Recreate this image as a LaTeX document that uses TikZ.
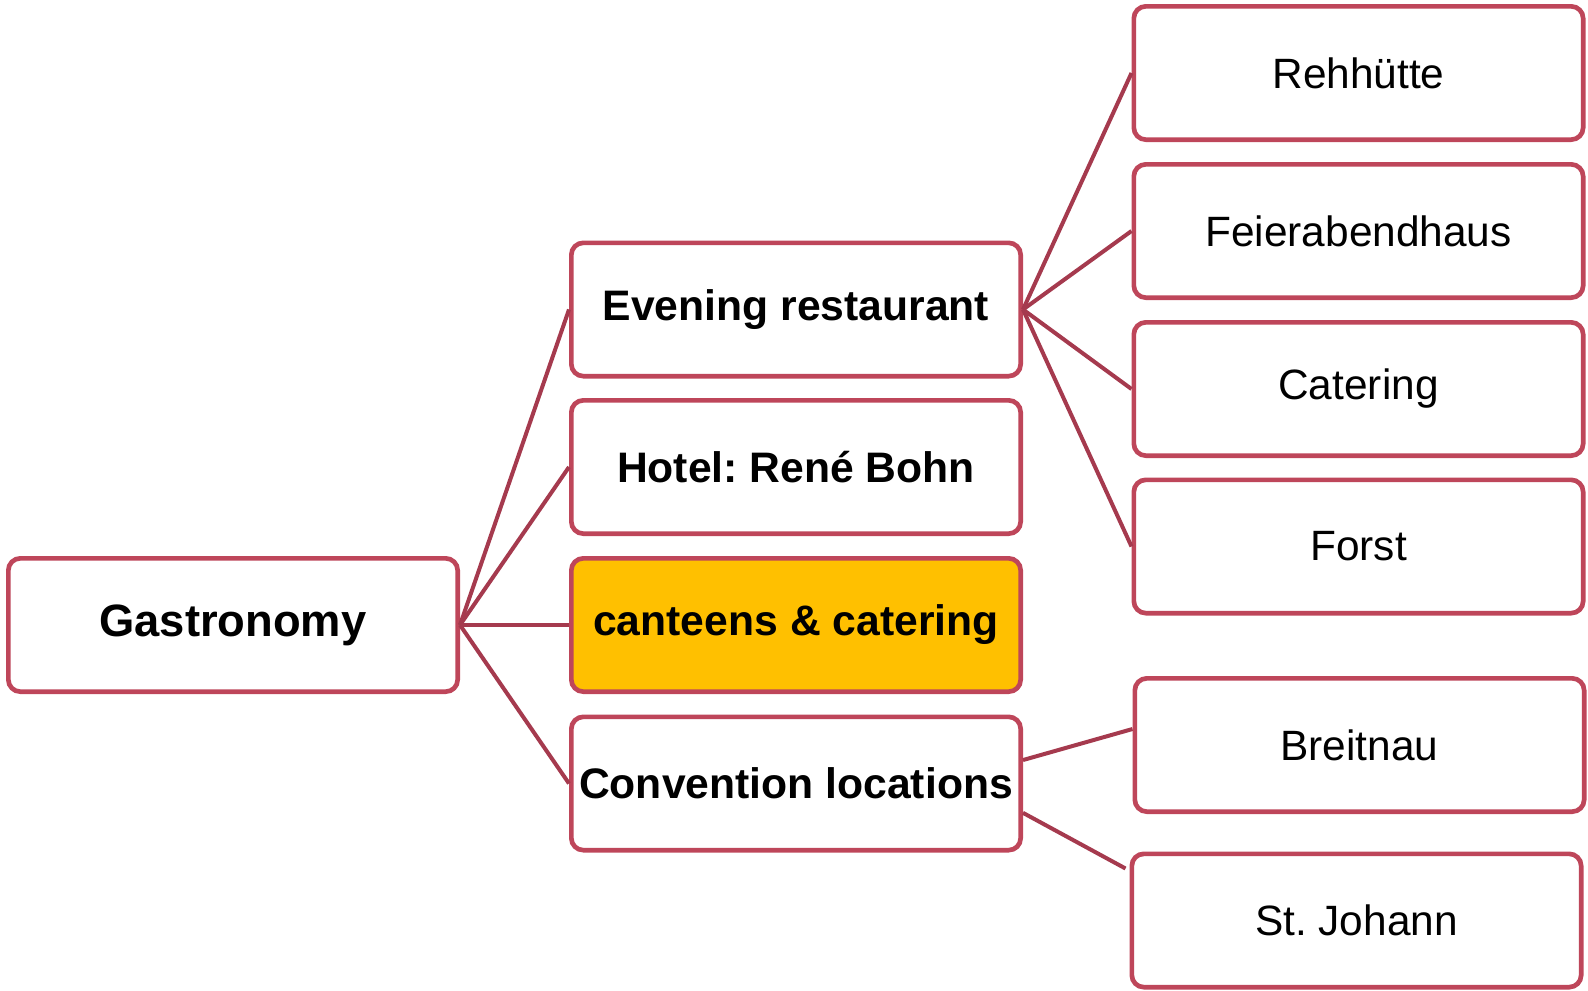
\documentclass[tikz,border=0pt]{standalone}
\usepackage{fontspec}
\setmainfont{Liberation Sans}
\frenchspacing
\definecolor{bordercol}{RGB}{190,70,90}
\definecolor{linecol}{RGB}{165,58,78}
\definecolor{orangefill}{RGB}{255,192,0}
\begin{document}
\frenchspacing
\begin{tikzpicture}[x=0.75pt,y=-0.75pt,
  box/.style={draw=bordercol,line width=3.5pt,rounded corners=9pt,fill=white,
    minimum width=337pt,minimum height=100pt,inner sep=0pt,
    font=\fontsize{31.8pt}{36pt}\selectfont\frenchspacing,text=black},
  boldbox/.style={box,font=\fontsize{32pt}{36pt}\selectfont\bfseries\frenchspacing},
  conn/.style={draw=linecol,line width=3pt}]
\useasboundingbox (0,0) rectangle (1588,990);
\node[boldbox,font=\fontsize{34pt}{38pt}\selectfont\bfseries] (gas) at (233,625) {Gastronomy};
\node[boldbox] (eve) at (796,309.5) {Evening restaurant};
\node[boldbox] (hot) at (796,467) {Hotel: René Bohn};
\node[boldbox,fill=orangefill] (can) at (796,625) {canteens \& catering};
\node[boldbox] (con) at (796,783.5) {Convention locations};
\node[box] (reh) at (1358.5,73) {Rehhütte};
\node[box] (fei) at (1358.5,231) {Feierabendhaus};
\node[box] (cat) at (1358.5,389) {Catering};
\node[box] (for) at (1358.5,546.5) {Forst};
\node[box] (bre) at (1359.5,745) {Breitnau};
\node[box] (stj) at (1356.5,920.5) {St. Johann};
\foreach \t in {eve,hot,can,con} \draw[conn] (gas.east) -- (\t.west);
\foreach \t in {reh,fei,cat,for} \draw[conn] (eve.east) -- (\t.west);
\draw[conn] ([yshift=17.6pt]con.east) -- ([yshift=12pt]bre.west);
\draw[conn] ([yshift=-22pt]con.east) -- ([xshift=-3pt,yshift=39pt]stj.west);
\end{tikzpicture}
\end{document}
